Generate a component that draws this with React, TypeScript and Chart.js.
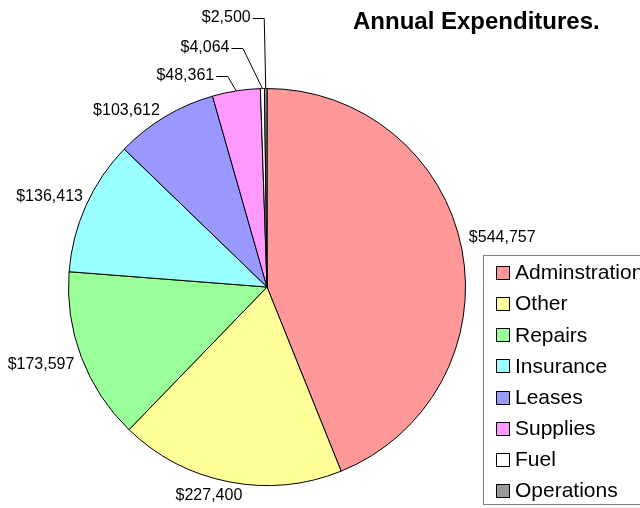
import React, { useEffect, useRef } from 'react';
import { Chart, registerables } from 'chart.js';

Chart.register(...registerables);

const categories = ['Adminstration', 'Other', 'Repairs', 'Insurance', 'Leases', 'Supplies', 'Fuel', 'Operations'];
const expenditures = [544757, 227400, 173597, 136413, 103612, 48361, 4064, 2500];
const sliceColors = ['#FF9999', '#FFFF99', '#99FF99', '#99FFFF', '#9999FF', '#FF99FF', '#FFFFFF', '#999999'];
const valueLabels = expenditures.map((v) => '$' + v.toLocaleString('en-US'));
const chartTitle = 'Annual Expenditures.';

const FONT = '"Liberation Sans", Arial, Helvetica, sans-serif';

// label placement relative to each slice's outer mid point (layout only)
const labelLayout: any[] = [
  { mode: 'plain', align: 'left', dx: 7, dy: -12 },
  { mode: 'plain', align: 'center', dx: -20, dy: 14 },
  { mode: 'plain', align: 'right', dx: -7, dy: 7 },
  { mode: 'plain', align: 'right', dx: -3, dy: -9 },
  { mode: 'plain', align: 'right', dx: -5, dy: -6 },
  { mode: 'leader', ex: -9, ey: -15 },
  { mode: 'leader', ex: -20, ey: -41 },
  { mode: 'leader', ex: -2, ey: -71 },
];

const decorPlugin = {
  id: 'decor',
  afterDraw(chart: any) {
    const ctx = chart.ctx;
    const meta = chart.getDatasetMeta(0);
    ctx.save();
    // data labels
    ctx.font = `16px ${FONT}`;
    ctx.fillStyle = '#000';
    ctx.strokeStyle = '#000';
    ctx.lineWidth = 1;
    ctx.textBaseline = 'middle';
    meta.data.forEach((el: any, i: number) => {
      const p = el.getProps(['x', 'y', 'startAngle', 'endAngle', 'outerRadius'], true);
      const mid = (p.startAngle + p.endAngle) / 2;
      const ax = p.x + Math.cos(mid) * p.outerRadius;
      const ay = p.y + Math.sin(mid) * p.outerRadius;
      const lay = labelLayout[i];
      const text = valueLabels[i];
      if (lay.mode === 'plain') {
        ctx.textAlign = lay.align;
        ctx.fillText(text, ax + lay.dx, ay + lay.dy);
      } else {
        const exX = ax + lay.ex;
        const exY = ay + lay.ey;
        const hl = 11;
        ctx.beginPath();
        ctx.moveTo(ax, ay);
        ctx.lineTo(exX + 0.5, Math.round(exY) + 0.5);
        ctx.lineTo(exX - hl, Math.round(exY) + 0.5);
        ctx.stroke();
        ctx.textAlign = 'right';
        ctx.fillText(text, exX - hl - 2, exY);
      }
    });
    // title
    ctx.font = `bold 24px ${FONT}`;
    ctx.textAlign = 'left';
    ctx.textBaseline = 'alphabetic';
    ctx.fillStyle = '#000';
    ctx.fillText(chartTitle, 353, 29);
    // legend
    const bx = 483.5, by = 255.5, bw = 200, bh = 249;
    ctx.fillStyle = '#fff';
    ctx.fillRect(bx, by, bw, bh);
    ctx.strokeStyle = '#808080';
    ctx.strokeRect(bx, by, bw, bh);
    ctx.font = `21px ${FONT}`;
    ctx.textBaseline = 'middle';
    const rowH = 31.14;
    categories.forEach((c, i) => {
      const cy = 272.5 + i * rowH;
      const sy = Math.round(cy - 6.5) + 0.5;
      ctx.fillStyle = sliceColors[i];
      ctx.fillRect(496.5, sy, 13, 13);
      ctx.strokeStyle = '#000';
      ctx.strokeRect(496.5, sy, 13, 13);
      ctx.fillStyle = '#000';
      ctx.fillText(c, 515, cy + 1);
    });
    ctx.restore();
  },
};

export default function App() {
  const ref = useRef<HTMLCanvasElement>(null);
  useEffect(() => {
    if (!ref.current) return;
    const chart = new Chart(ref.current, {
      type: 'pie',
      data: {
        labels: categories,
        datasets: [
          {
            data: expenditures,
            backgroundColor: sliceColors,
            borderColor: '#000',
            borderWidth: 1,
          },
        ],
      },
      options: {
        responsive: false,
        animation: false,
        layout: { padding: { left: 68, top: 88, right: 174, bottom: 22 } },
        plugins: {
          legend: { display: false },
          title: { display: false },
          tooltip: { enabled: false },
        },
      },
      plugins: [decorPlugin],
    });
    return () => chart.destroy();
  }, []);
  return (
    <div style={{ position: 'absolute', left: 0, top: 0, width: 640, height: 508, background: '#fff' }}>
      <canvas ref={ref} width={640} height={508} />
    </div>
  );
}
